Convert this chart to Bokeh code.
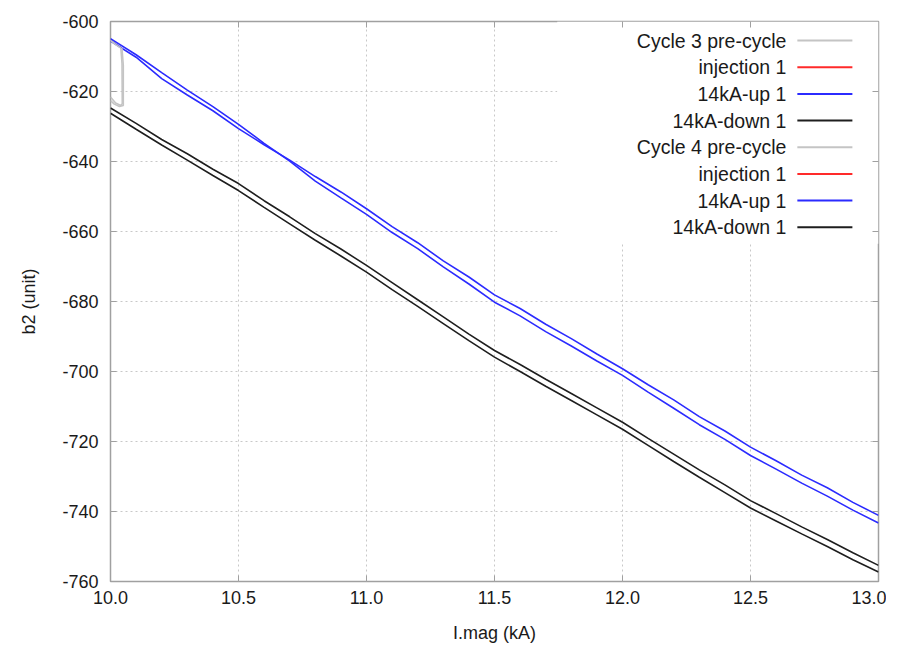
from bokeh.plotting import figure
from bokeh.models import Range1d, Label, BoxAnnotation, FixedTicker, PrintfTickFormatter
from bokeh.embed import file_html
from bokeh.resources import INLINE

# ---------------- data ----------------
x_ticks = [10.0, 10.5, 11.0, 11.5, 12.0, 12.5, 13.0]
y_ticks = [-760, -740, -720, -700, -680, -660, -640, -620, -600]

i_mag = [10.0, 10.1, 10.2, 10.3, 10.4, 10.5, 10.6, 10.7, 10.8, 10.9,
         11.0, 11.1, 11.2, 11.3, 11.4, 11.5, 11.6, 11.7, 11.8, 11.9,
         12.0, 12.1, 12.2, 12.3, 12.4, 12.5, 12.6, 12.7, 12.8, 12.9, 13.0]

c3_up = [-605.6, -610.2, -616.3, -621.0, -625.5, -630.6, -635.2, -639.6, -644.3, -648.7,
         -653.5, -658.6, -663.2, -668.4, -673.0, -678.1, -682.0, -686.5, -690.6, -695.0,
         -699.2, -703.8, -708.1, -712.9, -717.0, -721.6, -725.5, -729.6, -733.2, -737.4, -741.1]

c4_up = [-604.9, -609.5, -614.6, -619.6, -624.3, -629.4, -634.8, -639.9, -645.6, -650.4,
         -655.1, -660.3, -664.9, -670.1, -675.0, -680.2, -684.1, -688.6, -692.7, -697.0,
         -701.1, -705.9, -710.5, -715.2, -719.4, -724.0, -727.9, -731.9, -735.6, -739.6, -743.3]

c3_down = [-624.7, -629.1, -633.7, -637.8, -642.2, -646.3, -651.2, -655.8, -660.6, -665.0,
           -669.7, -674.6, -679.5, -684.4, -689.3, -694.0, -698.0, -702.2, -706.3, -710.4,
           -714.5, -719.1, -723.6, -728.1, -732.4, -736.9, -740.6, -744.4, -748.0, -751.8, -755.4]

c4_down = [-626.2, -630.8, -635.3, -639.6, -644.0, -648.3, -653.1, -657.8, -662.5, -667.0,
           -671.6, -676.6, -681.4, -686.3, -691.2, -695.9, -700.0, -704.2, -708.3, -712.4,
           -716.5, -721.1, -725.7, -730.2, -734.6, -739.0, -742.7, -746.4, -750.0, -753.8, -757.3]

c3_pre_x = [10.0, 10.02, 10.04, 10.045, 10.046, 10.04, 10.02, 10.0]
c3_pre_y = [-605.2, -606.3, -607.3, -612.0, -623.5, -624.0, -623.3, -621.6]
c4_pre_x = [10.0, 10.02, 10.045, 10.05, 10.05, 10.035, 10.015, 10.0]
c4_pre_y = [-605.4, -606.6, -607.8, -612.5, -624.0, -624.3, -623.6, -622.6]

# injection runs lie outside the shown current window
inj_x = []
inj_y = []

legend_labels = ["Cycle 3 pre-cycle", "injection 1", "14kA-up 1", "14kA-down 1",
                 "Cycle 4 pre-cycle", "injection 1", "14kA-up 1", "14kA-down 1"]

GRAY, RED, BLUE, BLACK = "#c4c4c4", "#ff2a2a", "#2b2bff", "#1e1e1e"
legend_colors = [GRAY, RED, BLUE, BLACK, GRAY, RED, BLUE, BLACK]

FONT = "Liberation Sans"
X0, X1, Y0, Y1 = 10.0, 13.0, -760.0, -600.0

# ---------------- figure ----------------
p = figure(width=886, height=645,
           x_range=Range1d(X0, X1), y_range=Range1d(Y0, Y1),
           output_backend="svg", toolbar_location=None,
           min_border_left=110, min_border_right=8, min_border_top=21, min_border_bottom=64,
           x_axis_label="I.mag (kA)", y_axis_label="b2 (unit)")

p.background_fill_color = "white"
p.border_fill_color = "white"
p.outline_line_color = "#a0a0a0"
p.outline_line_width = 1.5

p.xaxis.ticker = FixedTicker(ticks=x_ticks)
p.yaxis.ticker = FixedTicker(ticks=y_ticks)
p.xaxis.formatter = PrintfTickFormatter(format="%.1f")
p.yaxis.formatter = PrintfTickFormatter(format="%d")

TICK_COLOR = "#a0a0a0"
for ax in (p.xaxis[0], p.yaxis[0]):
    ax.axis_line_color = None
    ax.major_tick_in = 6
    ax.major_tick_out = 0
    ax.major_tick_line_color = TICK_COLOR
    ax.major_tick_line_width = 1
    ax.minor_tick_line_color = None
    ax.major_label_text_font = FONT
    ax.major_label_text_font_size = "18px"
    ax.major_label_text_color = "#1a1a1a"
    ax.axis_label_text_font = FONT
    ax.axis_label_text_font_size = "18px"
    ax.axis_label_text_font_style = "normal"
    ax.axis_label_text_color = "#1a1a1a"

p.yaxis.major_label_standoff = 12
p.yaxis.axis_label_standoff = 20
p.xaxis.major_label_standoff = 9
p.xaxis.axis_label_standoff = 16

for g in (p.xgrid[0], p.ygrid[0]):
    g.grid_line_color = "#c8c8c8"
    g.grid_line_dash = "2 3"
    g.grid_line_width = 1

# ---------------- series ----------------
LW = 1.6
p.line(c3_pre_x, c3_pre_y, line_color=GRAY, line_width=LW)
p.line(inj_x, inj_y, line_color=RED, line_width=LW)
p.line(i_mag, c3_up, line_color=BLUE, line_width=LW)
p.line(i_mag, c3_down, line_color=BLACK, line_width=LW)
p.line(c4_pre_x, c4_pre_y, line_color=GRAY, line_width=LW)
p.line(inj_x, inj_y, line_color=RED, line_width=LW)
p.line(i_mag, c4_up, line_color=BLUE, line_width=LW)
p.line(i_mag, c4_down, line_color=BLACK, line_width=LW)

# ---------------- gnuplot-style key (text right, sample line after it) ----------------
key_bg = BoxAnnotation(left=11.745, right=X1, top=Y1, bottom=-663.5,
                       fill_color="white", fill_alpha=1.0, line_color=None, level="glyph")
p.add_layout(key_bg)

row0 = -605.45
row_step = 7.62
text_x = 12.64
seg_x0, seg_x1 = 12.683, 12.898
ys = [row0 - i * row_step for i in range(len(legend_labels))]
for lab, col, yy in zip(legend_labels, legend_colors, ys):
    p.add_layout(Label(x=text_x, y=yy, text=lab, text_align="right", text_baseline="middle",
                       text_font=FONT, text_font_size="19.5px", text_color="#1a1a1a"))
p.segment(x0=[seg_x0] * len(ys), y0=ys, x1=[seg_x1] * len(ys), y1=ys,
          line_color=legend_colors, line_width=2, level="overlay")

# ---------------- mirrored inward ticks on top and right edges (6 px long) ----------------
tick_dx = 6 * (X1 - X0) / 768.0
tick_dy = 6 * (Y1 - Y0) / 560.0
inner_x = [t for t in x_ticks if X0 < t < X1]
inner_y = [t for t in y_ticks if Y0 < t < Y1]
p.segment(x0=inner_x, y0=[Y1] * len(inner_x), x1=inner_x, y1=[Y1 - tick_dy] * len(inner_x),
          line_color=TICK_COLOR, line_width=1, level="overlay")
p.segment(x0=[X1] * len(inner_y), y0=inner_y, x1=[X1 - tick_dx] * len(inner_y), y1=inner_y,
          line_color=TICK_COLOR, line_width=1, level="overlay")

open("out.html", "w").write(file_html(p, INLINE))
